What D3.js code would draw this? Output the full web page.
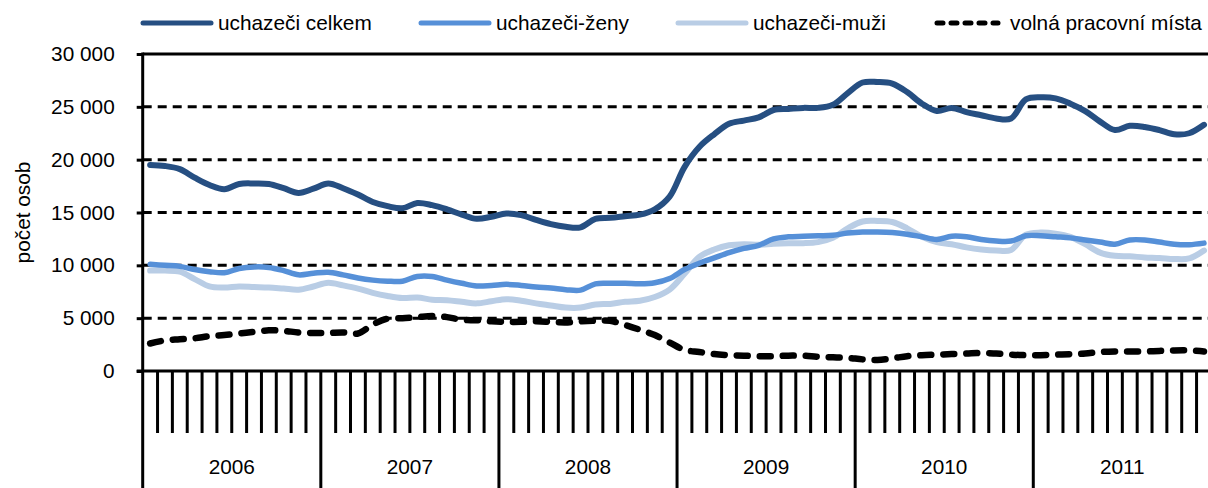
<!DOCTYPE html>
<html>
<head>
<meta charset="utf-8">
<script src="https://cdn.jsdelivr.net/npm/d3@7"></script>
<style>
  body { margin: 0; background: #fff; }
  text { font-family: "Liberation Sans", Arial, sans-serif; fill: #000; }
</style>
</head>
<body>
<div id="chart"></div>
<script>
var years = ["2006", "2007", "2008", "2009", "2010", "2011"];
var yTicks = [0, 5000, 10000, 15000, 20000, 25000, 30000];

var celkem = [
  19500, 19400, 19100, 18300, 17600, 17200, 17700, 17750, 17700, 17300, 16850, 17250,
  17750, 17300, 16700, 16000, 15600, 15400, 15900, 15700, 15300, 14800, 14400, 14600,
  14900, 14750, 14300, 13900, 13650, 13600, 14400, 14500, 14650, 14800, 15300, 16500,
  19300, 21200, 22400, 23400, 23700, 24000, 24700, 24800, 24900, 24900, 25200, 26300,
  27300, 27350, 27200, 26400, 25300, 24600, 24900, 24500, 24200, 23900, 23900, 25700,
  25900, 25800, 25300, 24600, 23600, 22800, 23200, 23100, 22800, 22400, 22500, 23300
];
var zeny = [
  10100, 10000, 9900, 9600, 9400, 9300, 9700, 9850, 9800, 9500, 9100, 9250,
  9350, 9100, 8800, 8600, 8500, 8500, 8950, 8950, 8600, 8300, 8050, 8100,
  8200, 8100, 7950, 7850, 7700, 7650, 8250, 8300, 8300, 8250, 8350, 8750,
  9600, 10200, 10700, 11200, 11600, 11900, 12500, 12700, 12750, 12800, 12850, 13050,
  13150, 13150, 13100, 12950, 12700, 12450, 12750, 12700, 12450, 12300, 12300, 12800,
  12800, 12700, 12600, 12400, 12200, 12000, 12400, 12400, 12200, 12000, 11950, 12100
];
var muzi = [
  9500, 9500, 9400, 8700, 8000, 7900, 8000, 7950, 7900, 7800, 7700, 8000,
  8350, 8100, 7800, 7400, 7100, 6900, 6950, 6750, 6700, 6550, 6400, 6600,
  6800, 6650, 6400, 6200, 6000, 6000, 6300, 6350, 6550, 6650, 7000, 7700,
  9200, 10800, 11500, 11900, 12000, 11950, 12050, 12100, 12100, 12200, 12600, 13500,
  14150, 14200, 14100, 13500, 12700, 12200, 12000, 11700, 11500, 11400, 11450, 12900,
  13100, 13000, 12700, 12000, 11200, 10900, 10850, 10750, 10700, 10600, 10650, 11400
];
var mista = [
  2600, 2900, 3000, 3100, 3300, 3400, 3550, 3700, 3850, 3800, 3650, 3600,
  3600, 3650, 3550, 4400, 4950, 5000, 5100, 5200, 5100, 4850, 4800, 4700,
  4650, 4650, 4700, 4650, 4600, 4700, 4750, 4750, 4350, 3900, 3400, 2700,
  2000, 1800, 1600, 1500, 1450, 1400, 1400, 1450, 1450, 1350, 1300, 1250,
  1100, 1050, 1200, 1400, 1500, 1550, 1600, 1650, 1700, 1650, 1550, 1500,
  1500, 1550, 1600, 1650, 1800, 1850, 1850, 1850, 1900, 1950, 1950, 1850
];

var series = [
  {name: "uchazeči celkem", values: celkem, color: "#264F82", width: 6, dash: null},
  {name: "uchazeči-ženy", values: zeny, color: "#5690D8", width: 5.5, dash: null},
  {name: "uchazeči-muži", values: muzi, color: "#B9CDE5", width: 6, dash: null},
  {name: "volná pracovní místa", values: mista, color: "#000", width: 6.5, dash: "11,12"}
];
// muži goes under ženy and celkem, dashed line on top
var drawOrder = [2, 1, 0, 3];

(function() {
  var w = 1208, h = 488,
      plotLeft = 142.7, plotRight = 1211.4, plotTop = 54, plotBottom = 371,
      fontSize = "20.8px";

  var months = d3.range(years.length * 12);

  var svg = d3.select("#chart").append("svg")
      .attr("width", w)
      .attr("height", h);

  var x = d3.scaleBand().domain(months).range([plotLeft, plotRight]).padding(0);
  var y = d3.scaleLinear().domain([0, 30000]).range([plotBottom, plotTop]);
  var cx = function(i) { return x(i) + x.bandwidth() / 2; };

  // grid
  svg.append("g")
      .selectAll("line")
      .data(yTicks.filter(function(d) { return d > 0 && d < 30000; }))
      .enter().append("line")
      .attr("x1", plotLeft).attr("x2", w)
      .attr("y1", function(d) { return y(d); })
      .attr("y2", function(d) { return y(d); })
      .attr("stroke", "#000")
      .attr("stroke-width", 3)
      .attr("stroke-dasharray", "9,6");

  svg.append("line")
      .attr("x1", plotLeft).attr("x2", w)
      .attr("y1", y(30000)).attr("y2", y(30000))
      .attr("stroke", "#000").attr("stroke-width", 3);

  // y axis
  var yAxis = d3.axisLeft(y).tickValues(yTicks).tickSize(6).tickPadding(22)
      .tickFormat(function(d) { return d3.format(",")(d).replace(/,/g, " "); });
  var gy = svg.append("g").attr("transform", "translate(" + plotLeft + ",0)").call(yAxis);
  gy.select(".domain").remove();
  gy.selectAll(".tick line").attr("stroke", "#000").attr("stroke-width", 3);
  gy.selectAll(".tick text")
      .attr("fill", "#000")
      .style("font-size", fontSize)
      .style("font-family", "Liberation Sans, Arial, sans-serif");
  svg.append("line")
      .attr("x1", plotLeft).attr("x2", plotLeft).attr("y1", plotTop - 1.5).attr("y2", h)
      .attr("stroke", "#000").attr("stroke-width", 3);

  svg.append("text")
      .attr("transform", "translate(30," + ((plotTop + plotBottom) / 2) + ") rotate(-90)")
      .attr("text-anchor", "middle")
      .style("font-size", fontSize)
      .text("počet osob");

  // x axis: month ticks and year separators
  svg.append("line")
      .attr("x1", plotLeft - 6).attr("x2", w).attr("y1", plotBottom).attr("y2", plotBottom)
      .attr("stroke", "#000").attr("stroke-width", 3);

  svg.append("g")
      .selectAll("line")
      .data(months.slice(1))
      .enter().append("line")
      .attr("x1", function(d) { return x(d); })
      .attr("x2", function(d) { return x(d); })
      .attr("y1", plotBottom)
      .attr("y2", function(d) { return d % 12 == 0 ? h : 433; })
      .attr("stroke", "#000")
      .attr("stroke-width", 3);

  svg.append("g")
      .selectAll("text")
      .data(years)
      .enter().append("text")
      .attr("x", function(d, i) { return x(i * 12) + x.bandwidth() * 6; })
      .attr("y", 474)
      .attr("text-anchor", "middle")
      .style("font-size", fontSize)
      .text(function(d) { return d; });

  // lines
  var line = d3.line()
      .x(function(d, i) { return cx(i); })
      .y(function(d) { return y(d); })
      .curve(d3.curveCatmullRom.alpha(0.5));

  svg.append("g")
      .selectAll("path")
      .data(drawOrder.map(function(k) { return series[k]; }))
      .enter().append("path")
      .attr("d", function(d) { return line(d.values); })
      .attr("fill", "none")
      .attr("stroke", function(d) { return d.color; })
      .attr("stroke-width", function(d) { return d.width; })
      .attr("stroke-linecap", "round")
      .attr("stroke-linejoin", "round")
      .attr("stroke-dasharray", function(d) { return d.dash; });

  // legend
  var legendX = [143, 421, 678, 935];
  var lg = svg.append("g")
      .selectAll("g")
      .data(series)
      .enter().append("g")
      .attr("transform", function(d, i) { return "translate(" + legendX[i] + ",23)"; });

  lg.append("line")
      .attr("x1", function(d) { return d.dash ? 2 : 0; })
      .attr("x2", function(d) { return d.dash ? 63 : 68; })
      .attr("y1", 0).attr("y2", 0)
      .attr("stroke", function(d) { return d.color; })
      .attr("stroke-width", 5)
      .attr("stroke-linecap", "round")
      .attr("stroke-dasharray", function(d) { return d.dash ? "6,8" : null; });

  lg.append("text")
      .attr("x", 75)
      .attr("y", 7)
      .style("font-size", fontSize)
      .text(function(d) { return d.name; });
})();
</script>
</body>
</html>
